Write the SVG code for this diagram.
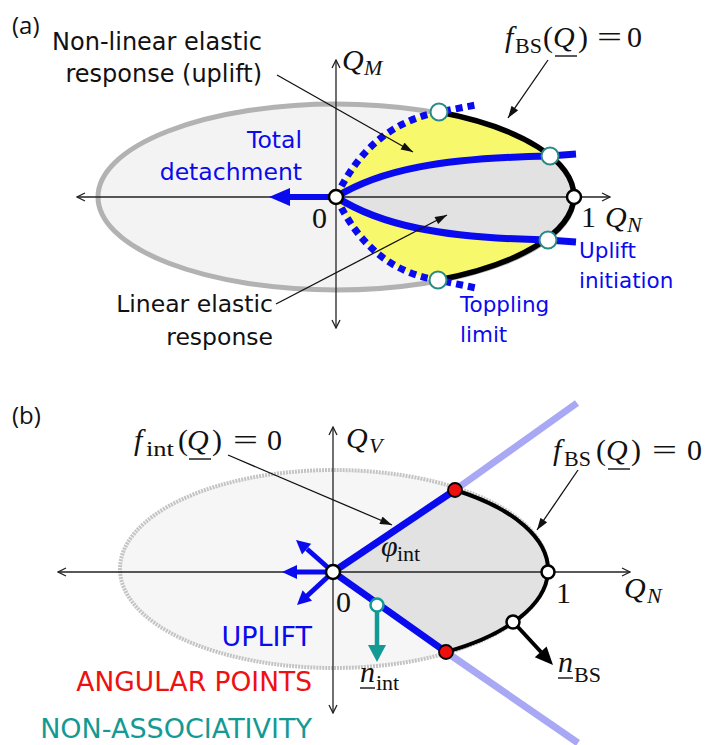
<svg xmlns="http://www.w3.org/2000/svg" width="707" height="745" viewBox="0 0 707 745">
<style>
.sans{font-family:"DejaVu Sans",Verdana,sans-serif;}
.panel{font-family:"Open Sans","Liberation Sans",Arial,sans-serif;font-size:24px;fill:#111;}
.math{font-family:"Liberation Serif","Times New Roman",serif;font-size:30px;fill:#111;}
.it{font-style:italic;}
.sub{font-size:22px;}
.axis{stroke:#222;stroke-width:1.3;fill:none;marker-end:url(#ax);}
.ann{stroke:#111;stroke-width:1.3;fill:none;marker-end:url(#ah);}
.blue{stroke:#0a0aee;fill:none;stroke-width:7;}
.dot{stroke:#0a0aee;fill:none;stroke-width:7;stroke-dasharray:7 5;}
.blk{stroke:#000;fill:none;stroke-width:5.5;}
.ul{stroke:#111;stroke-width:1.4;}
</style>
<defs>
<marker id="ax" viewBox="0 0 10 10" refX="9" refY="5" markerWidth="10" markerHeight="10" markerUnits="userSpaceOnUse" orient="auto"><path d="M1,1 L9,5 L1,9" fill="none" stroke="#222" stroke-width="1.3"/></marker>
<marker id="ah" viewBox="0 0 12 8" refX="12" refY="4" markerWidth="13" markerHeight="8" markerUnits="userSpaceOnUse" orient="auto"><path d="M0,0 L12,4 L0,8 z" fill="#111"/></marker>
</defs>
<rect width="707" height="745" fill="#fff"/>

<!-- ============ Panel (a) ============ -->
<g id="panel-a">
<text class="panel" x="12" y="34">(a)</text>
<ellipse id="a-ellipse" cx="336" cy="197" rx="238" ry="93" fill="#f3f3f3" stroke="#b2b2b2" stroke-width="5"/>
<path id="a-yellow" d="M336,197 Q370,125 439,112 A237,94 0 0 1 574,197 A237,94 0 0 1 438,280 Q370,270 336,197 Z" fill="#f8f86c"/>
<path id="a-gray" d="M336,197 C380,170 440,158 550,156 A237,94 0 0 1 574,197 A237,94 0 0 1 548,240 C440,238 380,225 336,197 Z" fill="#e2e2e2"/>
<g id="a-axes">
<line class="axis" x1="336" y1="197" x2="610" y2="197"/>
<line class="axis" x1="336" y1="197" x2="77" y2="197"/>
<line class="axis" x1="336" y1="197" x2="336" y2="60"/>
<line class="axis" x1="336" y1="197" x2="336" y2="328"/>
</g>
<path id="a-fbs" class="blk" d="M439,112 A237,94 0 0 1 574,197 A237,94 0 0 1 438,280"/>
<path class="blue" d="M336,197 C380,170 440,158 550,156 L576,154"/>
<path class="blue" d="M336,197 C380,225 440,238 548,240 L576,242"/>
<path class="dot" d="M336,197 Q370,125 439,112 L476,105"/>
<path class="dot" d="M336,197 Q370,270 438,280 L476,288"/>
<g id="a-detach-arrow">
<line x1="334" y1="197" x2="288" y2="197" stroke="#0a0aee" stroke-width="6"/>
<polygon points="269,197 290,188 290,206" fill="#0a0aee"/>
</g>
<g id="a-points">
<circle cx="336" cy="197" r="7" fill="#fff" stroke="#000" stroke-width="2.5"/>
<circle cx="574" cy="197" r="7" fill="#fff" stroke="#000" stroke-width="2.5"/>
<circle cx="439" cy="112" r="8.5" fill="#fff" stroke="#2a8a86" stroke-width="2"/>
<circle cx="438" cy="280" r="8.5" fill="#fff" stroke="#2a8a86" stroke-width="2"/>
<circle cx="550" cy="156" r="8.5" fill="#fff" stroke="#2a8a86" stroke-width="2"/>
<circle cx="548" cy="240" r="8.5" fill="#fff" stroke="#2a8a86" stroke-width="2"/>
</g>
<g id="a-annotations">
<line class="ann" x1="277" y1="75" x2="413" y2="152"/>
<line class="ann" x1="548" y1="60" x2="508" y2="118"/>
<line class="ann" x1="276" y1="304" x2="447" y2="215"/>
</g>
<g id="a-labels">
<text class="sans" font-size="24" fill="#111" text-anchor="end" x="262" y="50">Non-linear elastic</text>
<text class="sans" font-size="24" fill="#111" text-anchor="end" x="262" y="82">response (uplift)</text>
<text class="sans" font-size="23.5" fill="#0a0aee" text-anchor="end" x="302" y="148">Total</text>
<text class="sans" font-size="23.5" fill="#0a0aee" text-anchor="end" x="302" y="180">detachment</text>
<text class="sans" font-size="23.5" fill="#111" text-anchor="end" x="273" y="312">Linear elastic</text>
<text class="sans" font-size="23.5" fill="#111" text-anchor="end" x="273" y="345">response</text>
<text class="sans" font-size="21.5" fill="#0a0aee" x="579" y="258">Uplift</text>
<text class="sans" font-size="21.5" fill="#0a0aee" x="579" y="288">initiation</text>
<text class="sans" font-size="21.5" fill="#0a0aee" x="460" y="312">Toppling</text>
<text class="sans" font-size="21.5" fill="#0a0aee" x="460" y="342">limit</text>
<text class="math" x="312" y="228">0</text>
<text class="math" x="581" y="227">1</text>
<text class="math"><tspan class="it" x="605" y="227">Q</tspan><tspan class="it sub" x="627" y="232">N</tspan></text>
<text class="math"><tspan class="it" x="342" y="70">Q</tspan><tspan class="it sub" x="364" y="75">M</tspan></text>
<text class="math"><tspan class="it" x="505" y="47">f</tspan><tspan class="sub" x="515" y="53">BS</tspan><tspan x="543" y="47">(</tspan><tspan class="it" x="553" y="47">Q</tspan><tspan x="578" y="47">)</tspan><tspan x="627" y="47">0</tspan></text>
<text class="math" x="597" y="47" textLength="25" lengthAdjust="spacingAndGlyphs">=</text>
<line class="ul" x1="555" y1="56" x2="577" y2="56"/>
</g>
</g>

<!-- ============ Panel (b) ============ -->
<g id="panel-b">
<text class="panel" x="12" y="424">(b)</text>
<ellipse id="b-ellipse" cx="334" cy="569" rx="214" ry="99" fill="#f6f6f6" stroke="#c4c4c4" stroke-width="4" stroke-dasharray="2 1"/>
<path id="b-gray" d="M333,572 L455,490 A215,97 0 0 1 548,572 A215,97 0 0 1 446,652 Z" fill="#e2e2e2"/>
<g id="b-axes">
<line class="axis" x1="333" y1="572" x2="630" y2="572"/>
<line class="axis" x1="333" y1="572" x2="58" y2="572"/>
<line class="axis" x1="333" y1="572" x2="333" y2="427"/>
<line class="axis" x1="333" y1="572" x2="333" y2="713"/>
</g>
<g id="b-cone-ext">
<line x1="455" y1="490" x2="577" y2="403" stroke="#a8a8f4" stroke-width="7"/>
<line x1="446" y1="652" x2="578" y2="743" stroke="#a8a8f4" stroke-width="7"/>
</g>
<path id="b-fbs" d="M455,490 A215,97 0 0 1 548,572 A215,97 0 0 1 446,652" fill="none" stroke="#000" stroke-width="4"/>
<g id="b-fint">
<line class="blue" x1="333" y1="572" x2="455" y2="490"/>
<line class="blue" x1="333" y1="572" x2="446" y2="652"/>
</g>
<g id="b-uplift-arrows" fill="#0a0aee">
<line x1="333" y1="572" x2="296" y2="572" stroke="#0a0aee" stroke-width="5"/>
<polygon points="282,572 297,565 297,579"/>
<line x1="333" y1="572" x2="307" y2="549" stroke="#0a0aee" stroke-width="5"/>
<polygon points="296,540 311.2,543.8 302,554.4"/>
<line x1="333" y1="572" x2="307" y2="596" stroke="#0a0aee" stroke-width="5"/>
<polygon points="297,605 312,600.7 302.6,590.3"/>
</g>
<g id="b-nint-arrow">
<line x1="377" y1="611" x2="377" y2="646" stroke="#149a94" stroke-width="4.5"/>
<polygon points="377,662 368,645 386,645" fill="#149a94"/>
</g>
<g id="b-nbs-arrow">
<line x1="517" y1="626" x2="541" y2="652" stroke="#000" stroke-width="4"/>
<polygon points="553,665 546.6,646.4 534.8,657.2" fill="#000"/>
</g>
<g id="b-points">
<circle cx="333" cy="572" r="7" fill="#fff" stroke="#000" stroke-width="2.5"/>
<circle cx="548" cy="572" r="6.5" fill="#fff" stroke="#000" stroke-width="2.5"/>
<circle cx="513" cy="622" r="6.5" fill="#fff" stroke="#000" stroke-width="2.5"/>
<circle cx="455" cy="490" r="7" fill="#ee0f0f" stroke="#000" stroke-width="1.8"/>
<circle cx="446" cy="652" r="7" fill="#ee0f0f" stroke="#000" stroke-width="1.8"/>
<circle cx="377" cy="605" r="6.5" fill="#fff" stroke="#149a94" stroke-width="2.5"/>
</g>
<g id="b-annotations">
<line class="ann" x1="228" y1="455" x2="392" y2="525"/>
<line class="ann" x1="578" y1="470" x2="537" y2="530"/>
</g>
<g id="b-labels">
<text class="math"><tspan class="it" x="134" y="450">f</tspan><tspan x="178" y="450">(</tspan><tspan class="it" x="187" y="450">Q</tspan><tspan x="212" y="450">)</tspan><tspan x="267" y="450">0</tspan></text>
<text class="math sub" x="146" y="456" textLength="28" lengthAdjust="spacingAndGlyphs">int</text>
<text class="math" x="233" y="450" textLength="25" lengthAdjust="spacingAndGlyphs">=</text>
<line class="ul" x1="189" y1="459" x2="211" y2="459"/>
<text class="math"><tspan class="it" x="553" y="460">f</tspan><tspan class="sub" x="564" y="466">BS</tspan><tspan x="596" y="460">(</tspan><tspan class="it" x="606" y="460">Q</tspan><tspan x="631" y="460">)</tspan><tspan x="687" y="460">0</tspan></text>
<text class="math" x="652" y="460" textLength="25" lengthAdjust="spacingAndGlyphs">=</text>
<line class="ul" x1="608" y1="469" x2="630" y2="469"/>
<text class="math"><tspan class="it" x="346" y="448">Q</tspan><tspan class="it sub" x="369" y="453">V</tspan></text>
<text class="math"><tspan class="it" x="624" y="598">Q</tspan><tspan class="it sub" x="647" y="603">N</tspan></text>
<text class="math" x="336" y="612">0</text>
<text class="math" x="556" y="603">1</text>
<text class="math"><tspan class="it" x="381" y="556">φ</tspan><tspan class="sub" x="397" y="561">int</tspan></text>
<text class="math"><tspan class="it" x="360" y="682">n</tspan><tspan class="sub" x="376" y="690">int</tspan></text>
<line class="ul" x1="360" y1="688" x2="375" y2="688"/>
<text class="math"><tspan class="it" x="558" y="672">n</tspan><tspan class="sub" x="574" y="682">BS</tspan></text>
<line class="ul" x1="558" y1="678" x2="573" y2="678"/>
<text class="sans" font-size="27" fill="#0a0aee" text-anchor="end" x="312" y="646">UPLIFT</text>
<text class="sans" font-size="26.5" fill="#ee1111" text-anchor="end" x="312" y="691">ANGULAR POINTS</text>
<text class="sans" font-size="27" fill="#149a94" text-anchor="end" x="312" y="738">NON-ASSOCIATIVITY</text>
</g>
</g>
</svg>
